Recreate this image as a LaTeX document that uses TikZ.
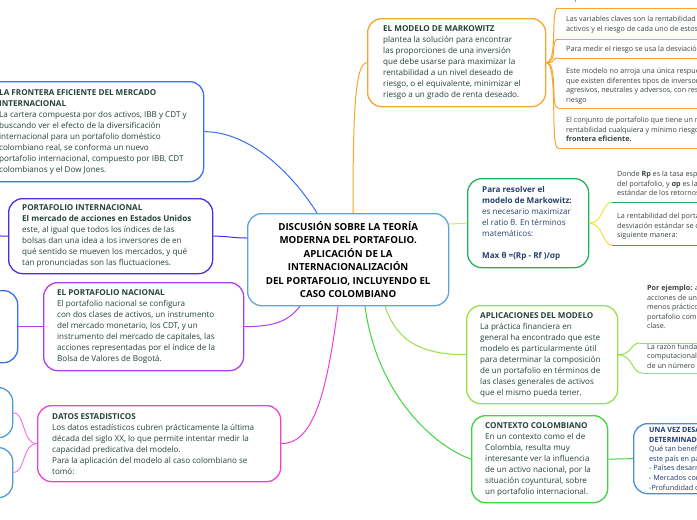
\documentclass[tikz,border=0pt]{standalone}
\usepackage{fontspec}
\setmainfont{Open Sans}
\usetikzlibrary{calc}
\definecolor{cfr}{HTML}{3B6EF0}
\definecolor{cpi}{HTML}{4A2FE0}
\definecolor{cpn}{HTML}{B23DF0}
\definecolor{clb}{HTML}{3A6FF0}
\definecolor{cds}{HTML}{F23FD6}
\definecolor{cdsl}{HTML}{F37BE3}
\definecolor{cdb}{HTML}{4C9BD6}
\definecolor{ccen}{HTML}{5EA4DC}
\definecolor{cmk}{HTML}{F7A52B}
\definecolor{cpr}{HTML}{23B45A}
\definecolor{cyel}{HTML}{F0E43A}
\definecolor{cap}{HTML}{96E24A}
\definecolor{ccc}{HTML}{3ED63E}
\definecolor{cuv}{HTML}{4A8FD3}
\definecolor{txtc}{HTML}{24433A}
\definecolor{prtxt}{HTML}{24406B}
\definecolor{uvtxt}{HTML}{1E3A74}
\definecolor{ctxc}{HTML}{3A4540}
\tikzset{
  box/.style={draw=#1, line width=1.3pt, rounded corners=14pt, fill=white, inner sep=0pt},
  txt/.style={align=left, inner sep=0pt, text=txtc, font=\fontsize{8.1}{11}\selectfont},
  ctx/.style={align=left, inner sep=0pt, text=ctxc, font=\fontsize{7.2}{9.6}\selectfont},
  conn/.style={draw=#1, line width=1pt},
}
\begin{document}
\begin{tikzpicture}[x=1pt,y=-1pt]
\useasboundingbox (0,0) rectangle (697,520);
\clip (0,0) rectangle (697,520);
\fill[white] (0,0) rectangle (697,520);

% boxes
\node[box=cfr, minimum width=218pt, minimum height=100pt, anchor=north west] (fr) at (-15,81) {};
\node[box=cpi, minimum width=204pt, minimum height=75pt, anchor=north west] (pi) at (8,198) {};
\node[box=cpn, minimum width=200pt, minimum height=88pt, anchor=north west] (pn) at (43,282) {};
\node[box=clb, minimum width=117pt, minimum height=72pt, anchor=north west] (lb1) at (-100,290) {};
\node[box=cds, minimum width=243pt, minimum height=76pt, anchor=north west] (ds) at (37,405) {};
\node[box=cdb, minimum width=112pt, minimum height=50pt, anchor=north west] (db1) at (-100,387) {};
\node[box=cdb, minimum width=112pt, minimum height=50pt, anchor=north west] (db2) at (-100,447) {};
\node[box=ccen, minimum width=201pt, minimum height=92pt, anchor=north west, align=center,
      font=\fontsize{9.7}{13.5}\selectfont\bfseries, text=black] (c) at (247,213)
  {DISCUSIÓN SOBRE LA TEORÍA\\MODERNA DEL PORTAFOLIO.\\APLICACIÓN DE LA\\INTERNACIONALIZACIÓN\\DEL PORTAFOLIO, INCLUYENDO EL\\CASO COLOMBIANO};
\node[box=cmk, minimum width=178pt, minimum height=88pt, anchor=north west] (mk) at (367,18) {};
\node[box=cpr, minimum width=121pt, minimum height=89pt, anchor=north west] (pr) at (467,178) {};
\node[box=cap, minimum width=151pt, minimum height=98pt, anchor=north west] (ap) at (466,305) {};
\node[box=ccc, minimum width=136pt, minimum height=87pt, anchor=north west] (cc) at (471,415) {};
\node[box=cuv, minimum width=120pt, minimum height=70pt, anchor=north west] (uv) at (633,423) {};

% texts in boxes
\node[txt, anchor=west] (frt) at ($(fr.west)+(14,0)$)
  {\textbf{LA FRONTERA EFICIENTE DEL MERCADO}\\\textbf{INTERNACIONAL}\\La cartera compuesta por dos activos, IBB y CDT y\\buscando ver el efecto de la diversificación\\internacional para un portafolio doméstico\\colombiano real, se conforma un nuevo\\portafolio internacional, compuesto por IBB, CDT\\colombianos y el Dow Jones.};
\node[txt, anchor=west] (pit) at ($(pi.west)+(14,0)$)
  {\textbf{PORTAFOLIO INTERNACIONAL}\\\textbf{El mercado de acciones en Estados Unidos}\\este, al igual que todos los índices de las\\bolsas dan una idea a los inversores de en\\qué sentido se mueven los mercados, y qué\\tan pronunciadas son las fluctuaciones.};
\node[txt, anchor=west] (pnt) at ($(pn.west)+(14,0)$)
  {\textbf{EL PORTAFOLIO NACIONAL}\\El portafolio nacional se configura\\con dos clases de activos, un instrumento\\del mercado monetario, los CDT, y un\\instrumento del mercado de capitales, las\\acciones representadas por el índice de la\\Bolsa de Valores de Bogotá.};
\node[txt, anchor=west] (dst) at ($(ds.west)+(15,0)$)
  {\textbf{DATOS ESTADISTICOS}\\Los datos estadísticos cubren prácticamente la última\\década del siglo XX, lo que permite intentar medir la\\capacidad predicativa del modelo.\\Para la aplicación del modelo al caso colombiano se\\tomó:};
\node[txt, anchor=west] (mkt) at ($(mk.west)+(16,0)$)
  {\textbf{EL MODELO DE MARKOWITZ}\\plantea la solución para encontrar\\las proporciones de una inversión\\que debe usarse para maximizar la\\rentabilidad a un nivel deseado de\\riesgo, o el equivalente, minimizar el\\riesgo a un grado de renta deseado.};
\node[txt, anchor=west, text=prtxt] (prt) at ($(pr.west)+(15,0)$)
  {\textbf{Para resolver el}\\\textbf{modelo de Markowitz:}\\es necesario maximizar\\el ratio θ. En términos\\matemáticos:\\\mbox{}\\\textbf{Max θ =(Rp - Rf )/σp}};
\node[txt, anchor=west] (apt) at ($(ap.west)+(14,0)$)
  {\textbf{APLICACIONES DEL MODELO}\\La práctica financiera en\\general ha encontrado que este\\modelo es particularmente útil\\para determinar la composición\\de un portafolio en términos de\\las clases generales de activos\\que el mismo pueda tener.};
\node[txt, anchor=west] (cct) at ($(cc.west)+(14,0)$)
  {\textbf{CONTEXTO COLOMBIANO}\\En un contexto como el de\\Colombia, resulta muy\\interesante ver la influencia\\de un activo nacional, por la\\situación coyuntural, sobre\\un portafolio internacional.};
\node[ctx, anchor=west, text=uvtxt] (uvt) at ($(uv.west)+(16,0)$)
  {\textbf{UNA VEZ DESARROLLADO}\\\textbf{DETERMINADO}\\Qué tan beneficioso\\este país en particular\\- Países desarrollados\\- Mercados con\\-Profundidad de};

% underlined children
\coordinate (m1u) at (558,8);
\coordinate (m2u) at (558,39);
\coordinate (m3u) at (558,58);
\coordinate (m4u) at (558,108);
\coordinate (m5u) at (558,148);
\node[ctx, anchor=west] (m1) at (566,-1) {implícita};
\node[ctx, anchor=west] (m2) at (566,24.7) {Las variables claves son la rentabilidad de los\\activos y el riesgo de cada uno de estos};
\node[ctx, anchor=west] (m3) at (566,49.5) {Para medir el riesgo se usa la desviación estándar};
\node[ctx, anchor=west] (m4) at (566,86) {Este modelo no arroja una única respuesta, ya\\que existen diferentes tipos de inversores:\\agresivos, neutrales y adversos, con respecto al\\riesgo};
\node[ctx, anchor=west] (m5) at (566,129.5) {El conjunto de portafolio que tiene un máximo de\\rentabilidad cualquiera y mínimo riesgo se llama\\\textbf{frontera eficiente.}};
\coordinate (p1u) at (612,202);
\coordinate (p2u) at (612,245);
\node[ctx, anchor=west] (p1) at (617,184.5) {Donde \textbf{Rp} es la tasa esperada de\\del portafolio, y \textbf{σp} es la desviación\\estándar de los retornos del portafolio};
\node[ctx, anchor=west] (p2) at (617,226.5) {La rentabilidad del portafolio y la\\desviación estándar se calculan de la\\siguiente manera:};
\coordinate (a1u) at (640,343);
\coordinate (a2u) at (642,373);
\node[ctx, anchor=west] (a1) at (647,307) {\textbf{Por ejemplo:} al\\acciones de una\\menos prácticos\\portafolio compuesto\\clase.};
\node[ctx, anchor=west] (a2) at (647,356) {La razón fundamental\\computacional\\de un número};
\coordinate (pil) at (-20,235.5);

% connectors
\draw[conn=cfr] ($(c.north west)+(70,0)$) .. controls +(-25,-40) and +(45,0) .. (fr.east);
\draw[conn=cpi] ($(c.north west)+(0,25)$) .. controls +(-15,0) and +(15,0) .. (pi.east);
\draw[conn=cpi] (pi.west) -- (pil);
\draw[conn=cpn] ($(c.south west)+(53,0)$) .. controls +(-12,15) and +(30,0) .. (pn.east);
\draw[conn=cpn] (pn.west) -- (lb1.east);
\draw[conn=cds] ($(c.south west)+(91,0)$) .. controls +(-12,95) and +(30,0) .. (ds.east);
\draw[conn=cdsl] (ds.west) .. controls +(-15,0) and +(12,0) .. (db1.east);
\draw[conn=cdsl] (ds.west) .. controls +(-15,0) and +(12,0) .. (db2.east);
\draw[conn=cmk] ($(c.north west)+(106,0)$) .. controls +(0,-100) and +(-12,0) .. (mk.west);
\foreach \m in {m1u,m2u,m3u,m4u,m5u}{
  \draw[conn=cmk] (mk.east) .. controls +(12,0) and +(-8,0) .. (\m);
  \draw[conn=cmk] (\m) -- ++(200,0);
}
\draw[conn=cyel] ($(c.north east)+(0,11)$) .. controls +(8,0) and +(-8,0) .. (pr.west);
\draw[conn=cyel] (pr.east) .. controls +(14,0) and +(-10,0) .. (p1u);
\draw[conn=cyel] (pr.east) .. controls +(14,0) and +(-10,0) .. (p2u);
\draw[conn=cpr] (p1u) -- ++(150,0);
\draw[conn=cpr] (p2u) -- ++(150,0);
\draw[conn=cap] ($(c.south west)+(138,0)$) .. controls +(12,35) and +(-45,0) .. (ap.west);
\draw[conn=cap] (ap.east) .. controls +(14,0) and +(-10,0) .. (a1u);
\draw[conn=cap] (ap.east) .. controls +(14,0) and +(-10,0) .. (a2u);
\draw[conn=cap] (a1u) -- ++(100,0);
\draw[conn=cap] (a2u) -- ++(100,0);
\draw[conn=ccc] ($(c.south west)+(118,0)$) .. controls +(12,90) and +(-35,-12) .. (cc.west);
\draw[conn=ccc] (cc.east) -- (uv.west);
\end{tikzpicture}
\end{document}
